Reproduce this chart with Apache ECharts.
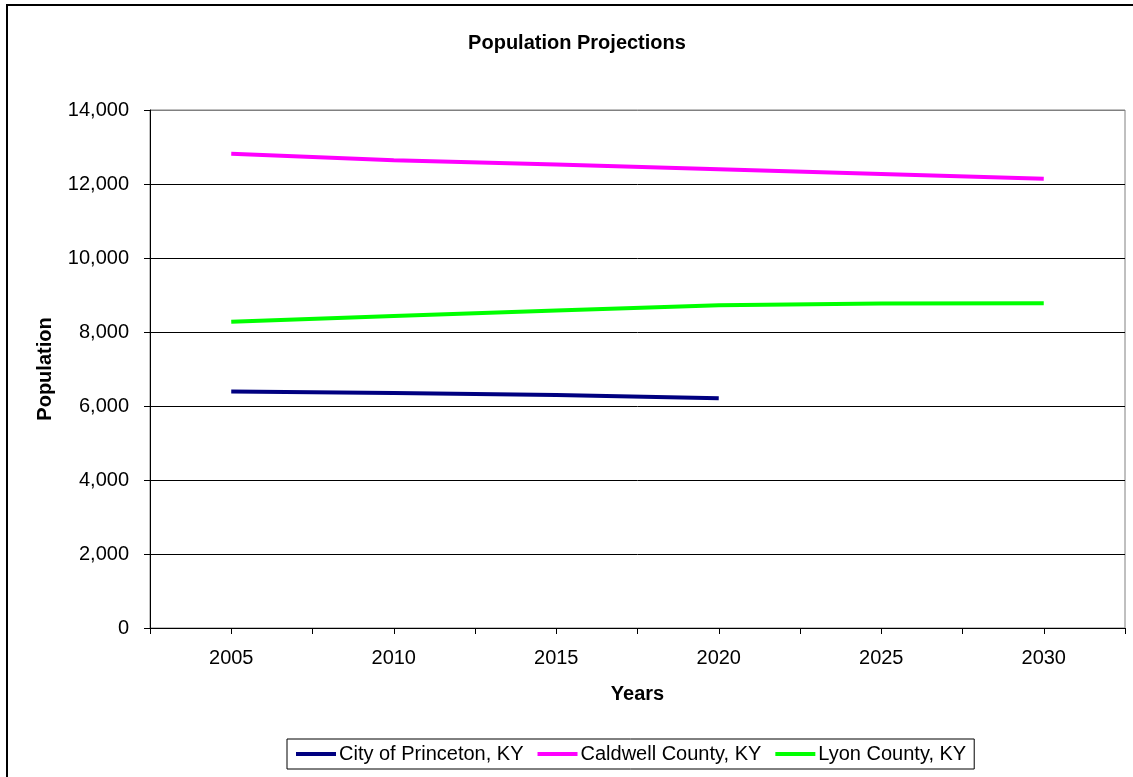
<!DOCTYPE html>
<html>
<head>
<meta charset="utf-8">
<script src="https://cdn.jsdelivr.net/npm/echarts@6/dist/echarts.min.js"></script>
<style>
  html, body { margin: 0; padding: 0; background: #fff; }
  #chart { width: 1133px; height: 777px; }
</style>
</head>
<body>
<div id="chart"></div>
<script>
// Projection years (x axis categories)
const years = [2005, 2010, 2015, 2020, 2025, 2030];

// Population projections per place
const princeton = [6390, 6350, 6300, 6210];
const caldwell = [12820, 12640, 12530, 12400, 12270, 12140];
const lyon = [8280, 8430, 8580, 8720, 8770, 8780];

const seriesNames = ['City of Princeton, KY', 'Caldwell County, KY', 'Lyon County, KY'];
const seriesColors = ['#000080', '#FF00FF', '#00FF00'];

// Y axis ticks
const yTicks = [0, 2000, 4000, 6000, 8000, 10000, 12000, 14000];

const pairs = vals => vals.map((v, i) => [years[i], v]);

const font = '"Liberation Sans", Arial, sans-serif';

const chart = echarts.init(document.getElementById('chart'), null, { renderer: 'canvas' });

chart.setOption({
  backgroundColor: '#ffffff',
  animation: false,
  textStyle: { fontFamily: font },
  graphic: [{
    type: 'rect',
    shape: { x: 7, y: 5, width: 1400, height: 1000 },
    style: { fill: 'none', stroke: '#000', lineWidth: 2 },
    silent: true,
    z: -1
  }],
  title: {
    text: 'Population Projections',
    left: 572,
    textAlign: 'center',
    top: 28,
    textStyle: { fontFamily: font, fontSize: 20, fontWeight: 'bold', color: '#000' }
  },
  legend: {
    data: seriesNames,
    left: 287,
    top: 739,
    icon: 'rect',
    itemWidth: 40,
    itemHeight: 4,
    itemGap: 14,
    padding: [5, 8, 5, 9],
    borderColor: '#000',
    borderWidth: 1,
    textStyle: { fontFamily: font, fontSize: 20, color: '#000', padding: [0, 0, 0, -2] }
  },
  grid: {
    left: 150,
    top: 110,
    right: 8,
    bottom: 149,
    show: true,
    borderColor: '#808080',
    borderWidth: 1
  },
  xAxis: {
    type: 'value',
    min: 2002.5,
    max: 2032.5,
    interval: 2.5,
    name: 'Years',
    nameLocation: 'middle',
    nameGap: 56,
    nameTextStyle: { fontFamily: font, fontSize: 20, fontWeight: 'bold', color: '#000' },
    axisLine: { show: true, lineStyle: { color: '#000', width: 1 } },
    axisTick: { show: true, length: 6, lineStyle: { color: '#000' } },
    splitLine: { show: false },
    axisLabel: {
      margin: 20,
      fontFamily: font,
      fontSize: 20,
      color: '#000',
      showMinLabel: true,
      showMaxLabel: true,
      formatter: v => (years.includes(v) ? String(v) : '')
    }
  },
  yAxis: {
    type: 'value',
    min: yTicks[0],
    max: yTicks[yTicks.length - 1],
    interval: yTicks[1] - yTicks[0],
    name: 'Population',
    nameLocation: 'middle',
    nameGap: 95,
    nameTextStyle: { fontFamily: font, fontSize: 20, fontWeight: 'bold', color: '#000' },
    axisLine: { show: true, lineStyle: { color: '#000', width: 1 } },
    axisTick: { show: true, length: 6, lineStyle: { color: '#000' } },
    splitLine: {
      show: true,
      lineStyle: { color: ['#000', '#000', '#000', '#000', '#000', '#000', '#000', '#808080'], width: 1 }
    },
    axisLabel: {
      margin: 21,
      fontFamily: font,
      fontSize: 20,
      color: '#000',
      formatter: v => v.toLocaleString('en-US')
    }
  },
  series: [
    { name: seriesNames[0], data: pairs(princeton) },
    { name: seriesNames[1], data: pairs(caldwell) },
    { name: seriesNames[2], data: pairs(lyon) }
  ].map((s, i) => ({
    type: 'line',
    name: s.name,
    data: s.data,
    symbol: 'none',
    color: seriesColors[i],
    lineStyle: { color: seriesColors[i], width: 4 },
    itemStyle: { color: seriesColors[i] }
  }))
});
</script>
</body>
</html>
